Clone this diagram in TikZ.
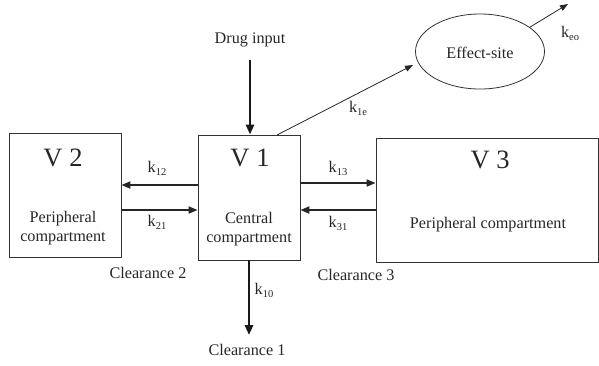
\documentclass[tikz,border=0pt]{standalone}
\usepackage{fontspec}
\setmainfont{Liberation Serif}
\usetikzlibrary{arrows.meta,shapes.geometric}
\newcommand{\ksb}[2]{#1\raisebox{-0.4ex}{\fontsize{10.5}{11}\selectfont #2}}
\begin{document}
\begin{tikzpicture}[x=1pt,y=-1pt,
  txt/.style={font=\fontsize{16.2}{19.5}\selectfont, inner sep=0pt, align=center, text=black!85},
  big/.style={font=\fontsize{26.5}{28}\selectfont, inner sep=0pt, text=black!85},
  comp/.style={draw=black!80, line width=0.8pt, inner sep=0pt},
  heavy/.style={line width=2.6pt, draw=black!90, -{Triangle[length=10pt,width=8pt]}},
  medium/.style={line width=1.8pt, draw=black!85, -{Triangle[length=9pt,width=7pt]}},
  light/.style={line width=0.8pt, draw=black!85, -{Triangle[length=8pt,width=6pt]}}]
\useasboundingbox (0,0) rectangle (599,365);
% compartments
\node[comp, minimum width=112pt, minimum height=124pt] (v2) at (65,195) {};
\node[comp, minimum width=102pt, minimum height=125pt] (v1) at (249,197.5) {};
\node[comp, minimum width=222pt, minimum height=124pt] (v3) at (487,200) {};
\node[comp, ellipse, minimum width=129pt, minimum height=75pt] (eff) at (480,51.5) {};
% texts
\node[big] (v2t) at (63,158) {V 2};
\node[big] (v1t) at (250,158) {V 1};
\node[big] (v3t) at (490,160) {V 3};
\node[txt] (v2s) at (63,228) {Peripheral\\compartment};
\node[txt] (v1s) at (249,229) {Central\\compartment};
\node[txt] (v3s) at (488,225) {Peripheral compartment};
\node[txt] (efft) at (480,53) {Effect-site};
\node[txt] (drug) at (250,40) {Drug input};
\node[txt] (cl1) at (247,350) {Clearance 1};
\node[txt] (cl2) at (148,273) {Clearance 2};
\node[txt] (cl3) at (356,275) {Clearance 3};
\node[txt] (lk12) at (157,168) {\ksb{k}{12}};
\node[txt] (lk21) at (157,222) {\ksb{k}{21}};
\node[txt] (lk13) at (338,168) {\ksb{k}{13}};
\node[txt] (lk31) at (338,223) {\ksb{k}{31}};
\node[txt] (lk10) at (264,290) {\ksb{k}{10}};
\node[txt] (lk1e) at (358,108) {\ksb{k}{1e}};
\node[txt] (lkeo) at (570,33) {\ksb{k}{eo}};
% helper coordinates
\coordinate (r12) at (0,185);
\coordinate (r21) at (0,210);
\coordinate (r13) at (0,183);
\coordinate (r31) at (0,210);
\coordinate (k1etip) at (413,65);
\coordinate (keotip) at (568,4);
\coordinate (k1estart) at (277,135);
% connectors
\draw[heavy] ([yshift=-13pt]drug.south) -- (drug |- v1.north);
\draw[medium] (v1.west |- r12) -- (v2.east |- r12);
\draw[medium] (v2.east |- r21) -- (v1.west |- r21);
\draw[medium] (v1.east |- r13) -- (v3.west |- r13);
\draw[medium] (v3.west |- r31) -- (v1.east |- r31);
\draw[heavy, shorten >=9pt] (v1.south) -- (v1.south |- cl1.north);
\draw[light] (k1estart) -- (k1etip);
\draw[light] (eff.26) -- (keotip);
\end{tikzpicture}
\end{document}
